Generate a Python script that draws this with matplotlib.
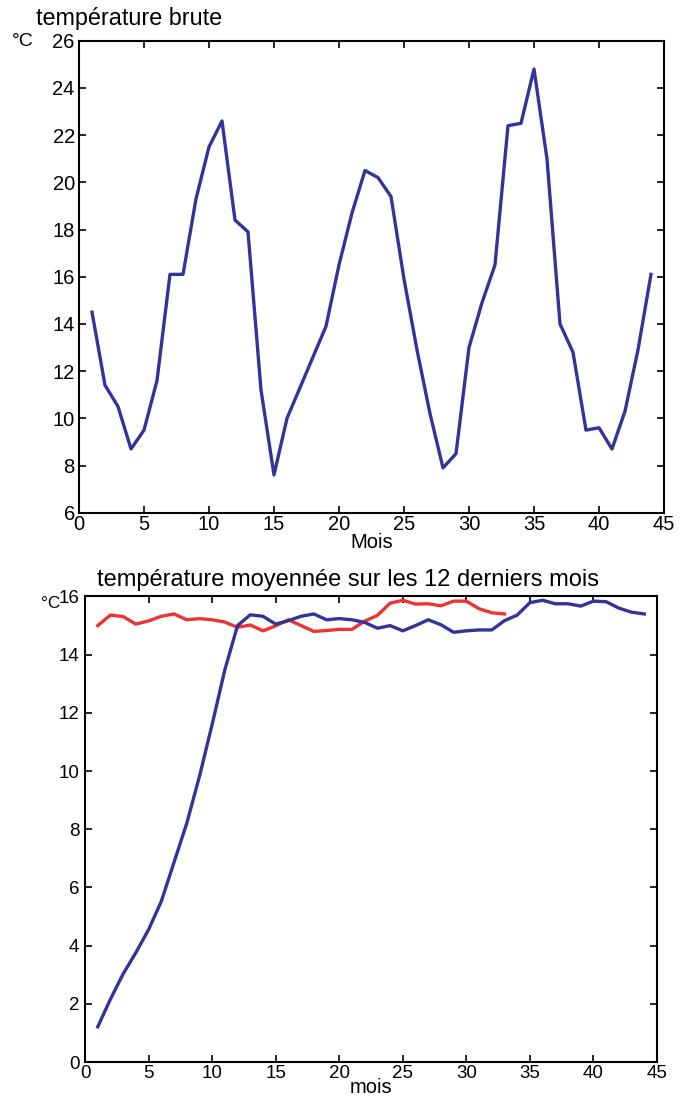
import matplotlib
matplotlib.use('Agg')
import matplotlib.pyplot as plt

# monthly raw temperature (top panel)
months = list(range(1, 45))
temp_raw = [14.5, 11.4, 10.5, 8.7, 9.5, 11.6, 16.1, 16.1, 19.3, 21.5,
            22.6, 18.4, 17.9, 11.2, 7.6, 10.0, 11.3, 12.6, 13.9, 16.5,
            18.7, 20.5, 20.2, 19.4, 15.9, 12.9, 10.2, 7.9, 8.5, 13.0,
            14.9, 16.5, 22.4, 22.5, 24.8, 21.0, 14.0, 12.8, 9.5, 9.6,
            8.7, 10.3, 12.9, 16.1]

# 12-month running mean (bottom panel)
mean_blue = [1.21, 2.16, 3.03, 3.76, 4.55, 5.52, 6.86, 8.2, 9.81, 11.6,
             13.48, 15.0, 15.37, 15.32, 15.05, 15.17, 15.32, 15.4, 15.2, 15.24,
             15.2, 15.11, 14.91, 15.0, 14.82, 15.0, 15.2, 15.03, 14.77, 14.82,
             14.85, 14.85, 15.17, 15.36, 15.79, 15.87, 15.75, 15.75, 15.67, 15.84,
             15.82, 15.6, 15.46, 15.4]
months_red = list(range(1, 34))
mean_red = [15.0, 15.36, 15.31, 15.05, 15.16, 15.32, 15.4, 15.2, 15.24, 15.2,
            15.12, 14.94, 15.02, 14.82, 14.99, 15.2, 15.0, 14.8, 14.83, 14.87,
            14.87, 15.15, 15.35, 15.77, 15.87, 15.74, 15.75, 15.68, 15.84, 15.84,
            15.58, 15.44, 15.4]

blue = '#333399'
red = '#ee3333'
font = 'Liberation Sans'

fig = plt.figure(figsize=(6.9, 11.04), dpi=100)

# --- top panel ---
ax1 = fig.add_axes([0.1145, 0.5356, 0.8478, 0.4275])
ax1.plot(months, temp_raw, color=blue, linewidth=2.4)
ax1.set_xlim(0, 45)
ax1.set_ylim(6, 26)
ax1.set_xticks(range(0, 46, 5))
ax1.set_yticks(range(6, 27, 2))
ax1.tick_params(direction='in', top=True, right=True, length=5, width=1.2,
                labelsize=14.5, pad=2)
ax1.tick_params(axis='y', pad=3)
for lab in ax1.get_xticklabels() + ax1.get_yticklabels():
    lab.set_family(font)
for s in ax1.spines.values():
    s.set_linewidth(1.5)
ax1.set_xlabel('Mois', fontsize=14.5, family=font, labelpad=-1)
fig.text(36 / 690, 1 - 18 / 1104, 'température brute', fontsize=16.8,
         family=font, va='center', ha='left')
fig.text(12 / 690, 1 - 41 / 1104, '°C', fontsize=14, family=font,
         va='center', ha='left')

# --- bottom panel ---
ax2 = fig.add_axes([0.1232, 0.0380, 0.829, 0.4217])
ax2.plot(months_red, mean_red, color=red, linewidth=2.4)
ax2.plot(months, mean_blue, color=blue, linewidth=2.4)
ax2.set_xlim(0, 45)
ax2.set_ylim(0, 16)
ax2.set_xticks(range(0, 46, 5))
ax2.set_yticks(range(0, 17, 2))
ax2.tick_params(direction='in', top=True, right=True, length=5, width=1.2,
                labelsize=13.5, pad=2)
ax2.tick_params(axis='y', pad=4)
for lab in ax2.get_xticklabels() + ax2.get_yticklabels():
    lab.set_family(font)
for s in ax2.spines.values():
    s.set_linewidth(1.5)
ax2.set_xlabel('mois', fontsize=14.5, family=font, labelpad=-3)
fig.text(97 / 690, 1 - 580 / 1104, 'température moyennée sur les 12 derniers mois',
         fontsize=17, family=font, va='center', ha='left')
fig.text(41 / 690, 1 - 603 / 1104, '°C', fontsize=12.5, family=font,
         va='center', ha='left')

fig.savefig('out.png', dpi=100)
